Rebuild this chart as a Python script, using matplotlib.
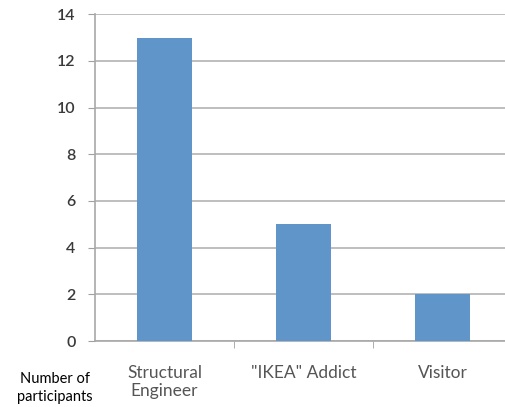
import matplotlib.pyplot as plt
from matplotlib.ticker import FixedLocator

categories = ["Structural\nEngineer", "\"IKEA\" Addict", "Visitor"]
counts = [13, 5, 2]
y_ticks = [0, 2, 4, 6, 8, 10, 12, 14]

plt.rcParams['font.family'] = ['Lato', 'DejaVu Sans']

fig = plt.figure(figsize=(5.05, 4.07), dpi=100)
ax = fig.add_axes([0.188, 0.162, 0.826, 0.803])

x = list(range(len(categories)))
ax.bar(x, counts, width=0.4, color='#5f95c9', zorder=3)

ax.set_xlim(-0.5, len(categories) - 0.5)
ax.set_ylim(0, 14)
ax.set_yticks(y_ticks)
ax.grid(True, axis='y', color='#b3b3b3', linewidth=1.2, zorder=0)

ax.set_xticks(x)
ax.set_xticklabels(categories, fontsize=12.5, color='#555555', linespacing=1.15)
ax.tick_params(axis='x', which='major', length=0, pad=17)
ax.xaxis.set_minor_locator(FixedLocator([0.5, 1.5]))
ax.tick_params(axis='x', which='minor', length=5, color='#a0a0a0', direction='out')
ax.tick_params(axis='y', labelsize=11.5, colors='#3a3a3a', length=5, direction='out', pad=9)
ax.yaxis.set_tick_params(color='#a0a0a0')
for lbl in ax.get_yticklabels():
    lbl.set_fontweight('semibold')

for side in ['top', 'right']:
    ax.spines[side].set_visible(False)
for side in ['left', 'bottom']:
    ax.spines[side].set_color('#a8a8a8')
    ax.spines[side].set_linewidth(1.2)

fig.text(0.108, 0.047, "Number of\nparticipants", ha='center', va='center',
         fontsize=10.5, color='black', linespacing=1.4)

fig.savefig("out.png", dpi=100)
